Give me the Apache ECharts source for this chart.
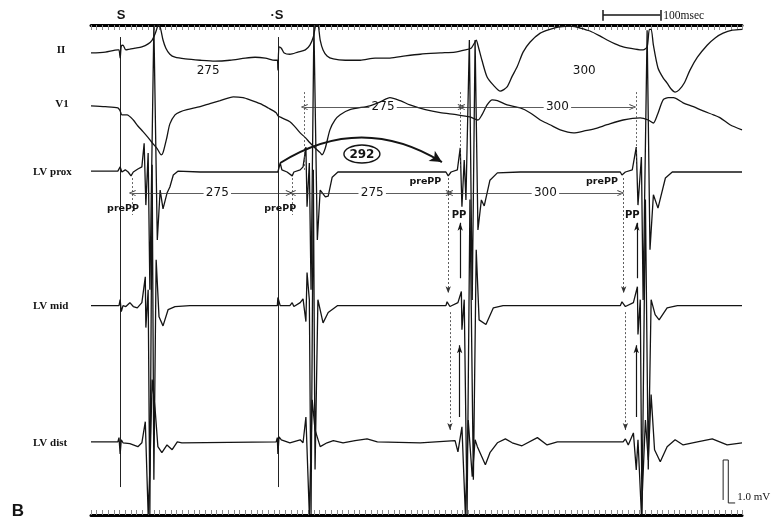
<!DOCTYPE html>
<html>
<head>
<meta charset="utf-8">
<script src="https://cdn.jsdelivr.net/npm/echarts@6/dist/echarts.min.js"></script>
<style>
  html, body { margin: 0; padding: 0; background: #fff; }
  #c { width: 778px; height: 520px; }
</style>
</head>
<body>
<div id="c"></div>
<script>
// ---- Recording channels: name and baseline offset (mV below the top timing line) ----
const channels = ['II', 'V1', 'LV prox', 'LV mid', 'LV dist'];
const baselines = [-0.63, -1.88, -3.42, -6.53, -9.72];

// ---- Samples for each channel: [time (ms), amplitude (mV) relative to baseline] ----
const leadII = [[0,-0.02],[25,0],[47,0.05],[49,0.05],[51,-0.14],[53,0.14],[56,0.16],[61,0.05],[68,0.07],[77,0.09],[89,0.12],[100,0.19],[107,0.28],[112,0.42],[116,0.58],[117,0.63],[121,0.58],[126,0.28],[131,0.09],[138,-0.05],[147,-0.12],[165,-0.16],[191,-0.19],[217,-0.21],[243,-0.19],[270,-0.14],[287,-0.12],[305,-0.14],[322,-0.19],[326,-0.19],[327,-0.42],[329,0.12],[333,0.09],[338,-0.02],[348,-0.05],[362,0],[375,0.05],[383,0.16],[389,0.35],[394,0.63],[397,0.63],[401,0.28],[406,0.05],[413,-0.09],[424,-0.16],[445,-0.19],[471,-0.19],[497,-0.14],[523,-0.14],[550,-0.09],[576,-0.05],[611,-0.02],[637,0],[655,0.05],[665,0.09],[670,0.19],[674,0.28],[677,0.16],[684,-0.19],[693,-0.58],[704,-0.77],[716,-0.91],[728,-0.81],[737,-0.56],[746,-0.33],[756,0],[768,0.23],[786,0.44],[803,0.53],[817,0.58],[830,0.6],[842,0.6],[856,0.56],[873,0.49],[891,0.37],[903,0.28],[917,0.19],[931,0.12],[952,0.07],[966,0.05],[973,0.12],[977,0.53],[980,0.53],[984,0.16],[992,-0.37],[1001,-0.6],[1008,-0.72],[1015,-0.86],[1022,-0.93],[1029,-0.88],[1038,-0.72],[1048,-0.42],[1061,-0.12],[1078,0.16],[1092,0.33],[1106,0.44],[1122,0.51],[1139,0.53]];

const leadV1 = [[0,0],[25,-0.02],[47,-0.05],[51,-0.12],[54,-0.21],[63,-0.21],[74,-0.33],[82,-0.47],[91,-0.6],[100,-0.74],[107,-0.86],[116,-1.0],[123,-1.14],[126,-1.09],[133,-0.72],[138,-0.42],[147,-0.21],[156,-0.14],[168,-0.09],[191,-0.02],[208,0.05],[226,0.12],[249,0.21],[266,0.19],[278,0.14],[296,0.05],[310,-0.05],[324,-0.16],[327,-0.23],[334,-0.28],[348,-0.37],[357,-0.49],[366,-0.63],[375,-0.74],[383,-0.86],[392,-0.98],[401,-1.09],[404,-1.14],[410,-0.98],[418,-0.56],[427,-0.33],[436,-0.21],[453,-0.09],[488,0],[506,0.09],[523,0.19],[541,0.12],[558,0.02],[585,-0.09],[611,-0.16],[641,-0.21],[663,-0.26],[677,-0.33],[684,-0.21],[693,0.02],[702,0.14],[711,0.12],[728,0.02],[751,-0.05],[768,-0.16],[786,-0.33],[803,-0.44],[821,-0.56],[844,-0.63],[865,-0.58],[882,-0.53],[903,-0.44],[931,-0.33],[961,-0.28],[975,-0.33],[984,-0.4],[991,-0.21],[1001,0.14],[1010,0.19],[1019,0.19],[1036,0.07],[1054,-0.02],[1071,-0.12],[1089,-0.21],[1101,-0.28],[1118,-0.44],[1139,-0.56]];

const lvProx = [[0,0.02],[47,0.02],[51,0.12],[54,0],[60,0.05],[65,0],[70,-0.09],[74,0],[82,0.07],[89,0.12],[93,0.67],[96,-0.77],[100,0.44],[103,-2.74],[110,3.42],[116,-1.58],[121,-0.42],[126,-0.86],[133,-0.49],[138,-0.35],[144,-0.07],[152,0.02],[191,0],[261,0],[327,0],[331,0.21],[334,0.05],[343,0],[352,-0.09],[355,0],[366,0.05],[371,0.12],[376,0.58],[378,-0.81],[382,0.21],[385,-2.74],[390,3.42],[396,-1.58],[401,-0.42],[410,-0.58],[415,-0.56],[422,-0.12],[432,0],[541,0],[621,0],[625,-0.09],[630,0],[641,0.05],[646,0.56],[649,-0.81],[653,0.28],[656,-0.65],[662,3.07],[667,-2.98],[672,3.07],[677,-1.35],[683,-0.65],[688,-0.79],[698,-0.19],[711,-0.02],[751,0],[926,0],[929,-0.07],[935,0],[947,0.05],[954,0.58],[957,-0.77],[963,0.35],[966,-2.98],[973,3.3],[978,-1.81],[984,-0.53],[992,-0.84],[1005,-0.14],[1017,0],[1139,0]];

const lvMid = [[0,0],[49,0],[51,0.14],[53,-0.14],[56,0],[61,-0.02],[68,0.07],[74,-0.02],[81,-0.05],[89,0.07],[95,0.67],[96,-0.51],[100,0.37],[103,-4.86],[107,3.28],[110,-4.05],[114,1.07],[119,-0.26],[126,-0.47],[135,-0.09],[147,-0.02],[173,0],[326,0],[327,0.19],[331,0],[348,0],[352,0.07],[355,-0.02],[366,0.07],[371,0.16],[376,-0.37],[378,0.77],[382,0.14],[385,-4.86],[389,3.16],[392,-3.81],[397,0.14],[406,-0.4],[415,-0.16],[431,0],[621,0],[623,0.09],[628,-0.02],[642,0.07],[648,0.33],[649,-0.56],[653,0.14],[658,-4.86],[663,2.47],[669,-4.05],[674,1.3],[679,-0.33],[691,-0.44],[704,-0.05],[721,0],[926,0],[929,0.09],[935,-0.02],[949,0.07],[956,0.44],[957,-0.67],[961,0.14],[964,-4.86],[970,2.47],[975,-3.81],[980,0.14],[987,-0.21],[994,-0.33],[1008,-0.05],[1026,0],[1139,0]];

const lvDist = [[0,0.02],[47,0.02],[49,0.12],[51,-0.26],[53,0.07],[56,0],[68,-0.02],[82,-0.09],[89,0],[95,0.49],[100,-1.67],[103,-0.63],[107,1.47],[112,0.81],[117,-0.09],[124,-0.23],[133,-0.05],[142,-0.16],[151,0.02],[159,0],[324,0.02],[326,0.12],[327,-0.26],[329,0.14],[333,0.07],[348,0],[366,0.07],[371,0],[376,0.6],[382,-1.67],[387,1.0],[392,0.3],[401,-0.09],[413,0],[424,0.05],[441,0],[462,0.05],[483,0.09],[501,0.02],[576,0],[637,0.05],[642,-0.21],[649,0.37],[655,-1.67],[660,0.53],[667,-0.79],[672,0.07],[676,-0.09],[690,-0.51],[698,-0.23],[711,0],[725,0.09],[737,0],[754,-0.07],[781,0.12],[798,-0.05],[816,0.02],[873,0.02],[931,0.02],[935,0.09],[940,-0.05],[949,0.23],[954,-0.63],[957,0.07],[963,-1.67],[970,0.53],[975,-0.4],[980,1.12],[986,-0.16],[996,-0.44],[1008,-0.09],[1022,0.07],[1036,-0.05],[1061,0.02],[1087,0.09],[1113,-0.05],[1139,0]];

// ---- Pacing stimuli (ms) ----
const stimTimes = [51, 327];
const stimLabels = ['S', '\u00b7S'];

// ---- Measured intervals (ms) ----
const intervalText  = ['275', '300', '275', '275', '300'];
const intervalStart = [373, 648, 72, 352, 627];
const intervalRow   = [1, 1, 2, 2, 2];          // channel the interval is drawn on
const intervalLabelAt = [511, 816, 221, 492, 795];

// Cycle lengths written on lead II
const cycleText = ['275', '300'];
const cycleAt   = [205, 863];

// prePP / PP timings (ms)
const prePPTimes = [72, 352, 625, 932];
const ppTimes    = [646, 955];
const returnCycle = '292';

// Scale references
const scaleBarMs = 100;
const calibrationMv = 1.0;

// ---------------------------------------------------------------
const INK = '#141414';
const chart = echarts.init(document.getElementById('c'));
const traces = [leadII, leadV1, lvProx, lvMid, lvDist];
const rowLevel = [-1.06, -1.91, -3.91];  // annotation rows (II, V1, LV prox)

const series = traces.map((pts, i) => ({
  type: 'line',
  name: channels[i],
  data: pts.map(p => [p[0], p[1] + baselines[i]]),
  symbol: 'none',
  smooth: i < 2 ? 0.25 : false,
  lineStyle: { color: INK, width: 1.3 },
  animation: false,
  z: 3
}));

// stimulus markers spanning all channels
series.push({
  type: 'lines', coordinateSystem: 'cartesian2d', animation: false, z: 2,
  lineStyle: { color: '#222', width: 1, opacity: 1 },
  data: stimTimes.map(t => ({ coords: [[t, -0.28], [t, -10.75]] }))
});

// interval arrows, split around their labels
const CHEVRON = 'path://M5,0L10,10L8.6,10L5,2.8L1.4,10L0,10Z';
const intervalSegs = [];
intervalText.forEach((txt, i) => {
  const y = rowLevel[intervalRow[i]];
  const s = intervalStart[i], e = s + Number(txt), at = intervalLabelAt[i];
  intervalSegs.push({ coords: [[at - 24, y], [s, y]] });
  intervalSegs.push({ coords: [[at + 24, y], [e, y]] });
});
series.push({
  type: 'lines', coordinateSystem: 'cartesian2d', animation: false, z: 4,
  symbol: ['none', CHEVRON], symbolSize: [1, [6, 7]],
  lineStyle: { color: '#333', width: 0.8, opacity: 1 },
  data: intervalSegs
});

// dotted timing guides
const dotted = [
  { coords: [[prePPTimes[0], -3.56], [prePPTimes[0], -4.42]] },
  { coords: [[prePPTimes[1], -3.56], [prePPTimes[1], -4.42]] },
  { coords: [[intervalStart[0], -1.56], [intervalStart[0], -3.37]] },
  { coords: [[intervalStart[1] - 2, -1.56], [intervalStart[1] - 2, -3.37]] },
  { coords: [[intervalStart[1] + 306, -1.56], [intervalStart[1] + 306, -3.37]] }
];
series.push({
  type: 'lines', coordinateSystem: 'cartesian2d', animation: false, z: 4,
  lineStyle: { color: '#444', width: 0.8, type: [2, 2], opacity: 1 },
  data: dotted
});
// dotted arrows from prePP down to the mid and distal bipoles
const dottedArrows = [];
[prePPTimes[2], prePPTimes[3]].forEach(t => {
  dottedArrows.push({ coords: [[t, -3.56], [t, -6.24]] });
  dottedArrows.push({ coords: [[t + 3, -6.68], [t + 3, -9.42]] });
});
series.push({
  type: 'lines', coordinateSystem: 'cartesian2d', animation: false, z: 4,
  symbol: ['none', 'arrow'], symbolSize: [1, [4, 7]],
  lineStyle: { color: '#333', width: 0.8, type: [2, 2], opacity: 1 },
  data: dottedArrows
});
// solid PP arrows (upward)
const ppArrows = [];
ppTimes.forEach(t => {
  ppArrows.push({ coords: [[t, -5.89], [t, -4.6]] });
  ppArrows.push({ coords: [[t - 1, -9.12], [t - 1, -7.45]] });
});
series.push({
  type: 'lines', coordinateSystem: 'cartesian2d', animation: false, z: 4,
  symbol: ['none', 'arrow'], symbolSize: [1, [4, 8]],
  lineStyle: { color: INK, width: 1.2, opacity: 1 },
  data: ppArrows
});
// curved arrow: stimulus to first post-pacing beat
series.push({
  type: 'lines', coordinateSystem: 'cartesian2d', animation: false, z: 5,
  symbol: ['none', 'arrow'], symbolSize: [1, [9, 12]],
  lineStyle: { color: INK, width: 2, curveness: 0.31, opacity: 1 },
  data: [{ coords: [[stimTimes[1] + 4, -3.21], [614, -3.19]] }]
});
// 100 ms scale bar above the timing line
const sb0 = 896, sb1 = sb0 + scaleBarMs;
series.push({
  type: 'lines', coordinateSystem: 'cartesian2d', animation: false, z: 5, clip: false,
  lineStyle: { color: INK, width: 1.5, opacity: 1 },
  data: [
    { coords: [[sb0, 0.23], [sb1, 0.23]] },
    { coords: [[sb0, 0.35], [sb0, 0.1]] },
    { coords: [[sb1, 0.35], [sb1, 0.1]] }
  ]
});
// 1 mV calibration pulse
const calBase = -11.12;
series.push({
  type: 'line', animation: false, clip: false, symbol: 'none', z: 5,
  lineStyle: { color: '#222', width: 1 },
  data: [[1106, calBase + 0.07], [1106, calBase + calibrationMv], [1115, calBase + calibrationMv], [1115, calBase], [1127, calBase]]
});

const option = {
  backgroundColor: '#ffffff',
  animation: false,
  grid: { left: 91, right: 36, top: 25, bottom: 5 },
  xAxis: [
    {
      type: 'value', min: 0, max: 1139, interval: 10, position: 'bottom',
      axisLine: { show: true, onZero: false, lineStyle: { color: '#000', width: 3 } },
      axisTick: { show: true, inside: true, length: 5, lineStyle: { color: '#8a8a8a', width: 1 } },
      axisLabel: { show: false }, splitLine: { show: false }
    },
    {
      type: 'value', min: 0, max: 1139, interval: 10, position: 'top',
      axisLine: { show: true, onZero: false, lineStyle: { color: '#000', width: 3 } },
      axisTick: { show: true, inside: true, length: 5, lineStyle: { color: '#8a8a8a', width: 1 } },
      axisLabel: { show: false }, splitLine: { show: false }
    }
  ],
  yAxis: { type: 'value', min: -11.4, max: 0, show: false },
  series
};
chart.setOption(option);

// ---- text and shapes placed through the grid's own scale ----
const P = (t, v) => chart.convertToPixel({ gridIndex: 0 }, [t, v]);
const g = [];
function addText(str, x, y, font, align) {
  g.push({ type: 'text', x, y, z: 20,
    style: { text: str, font, fill: INK, align: align || 'center', verticalAlign: 'middle' } });
}
const SANS = '"DejaVu Sans", sans-serif';
const SERIF = '"Liberation Serif", "DejaVu Serif", serif';

// channel names
channels.forEach((name, i) => {
  const y = P(0, baselines[i])[1];
  if (i < 2) addText(name, i === 0 ? 61 : 62, y - 1.5, 'bold 11px ' + SERIF, 'center');
  else addText(name, 33, y, 'bold 11px ' + SERIF, 'left');
});
// stimulus labels
stimTimes.forEach((t, i) => {
  const x = P(t, 0)[0];
  addText(stimLabels[i], x + (i === 0 ? 1 : -1), 15, 'bold 13px "Liberation Sans", Arial, sans-serif', 'center');
});
// cycle lengths on lead II
cycleText.forEach((txt, i) => {
  const p = P(cycleAt[i], rowLevel[0]);
  addText(txt, p[0], p[1], '12px ' + SANS);
});
// interval labels
intervalText.forEach((txt, i) => {
  const p = P(intervalLabelAt[i], rowLevel[intervalRow[i]]);
  addText(txt, p[0], p[1], '12px ' + SANS);
});
// prePP and PP labels
[[prePPTimes[0] - 16, -4.28], [prePPTimes[1] - 21, -4.28], [prePPTimes[2] - 40, -3.65], [prePPTimes[3] - 38, -3.65]]
  .forEach(q => { const p = P(q[0], q[1]); addText('prePP', p[0], p[1], 'bold 9.5px ' + SANS); });
[[ppTimes[0] - 2, -4.44], [ppTimes[1] - 8, -4.42]]
  .forEach(q => { const p = P(q[0], q[1]); addText('PP', p[0], p[1], 'bold 10px ' + SANS); });
// return cycle in an ellipse
const rc = P(474, -3.0);
g.push({ type: 'ellipse', z: 19, shape: { cx: rc[0], cy: rc[1], rx: 18, ry: 9 },
  style: { fill: '#fff', stroke: INK, lineWidth: 1.4 } });
addText(returnCycle, rc[0], rc[1] + 0.5, 'bold 12px ' + SANS);
// scale bar and calibration captions
const sbp = P(sb1, 0.23);
addText(scaleBarMs + 'msec', sbp[0] + 3, sbp[1] + 1, '11.5px ' + SERIF, 'left');
const cp = P(1127, calBase + 0.14);
addText(calibrationMv.toFixed(1) + ' mV', cp[0] + 2, cp[1], '11px ' + SERIF, 'left');
// panel letter
addText('B', 18, 511, 'bold 17px "Liberation Sans", Arial, sans-serif', 'center');

chart.setOption({ graphic: g });
</script>
</body>
</html>
